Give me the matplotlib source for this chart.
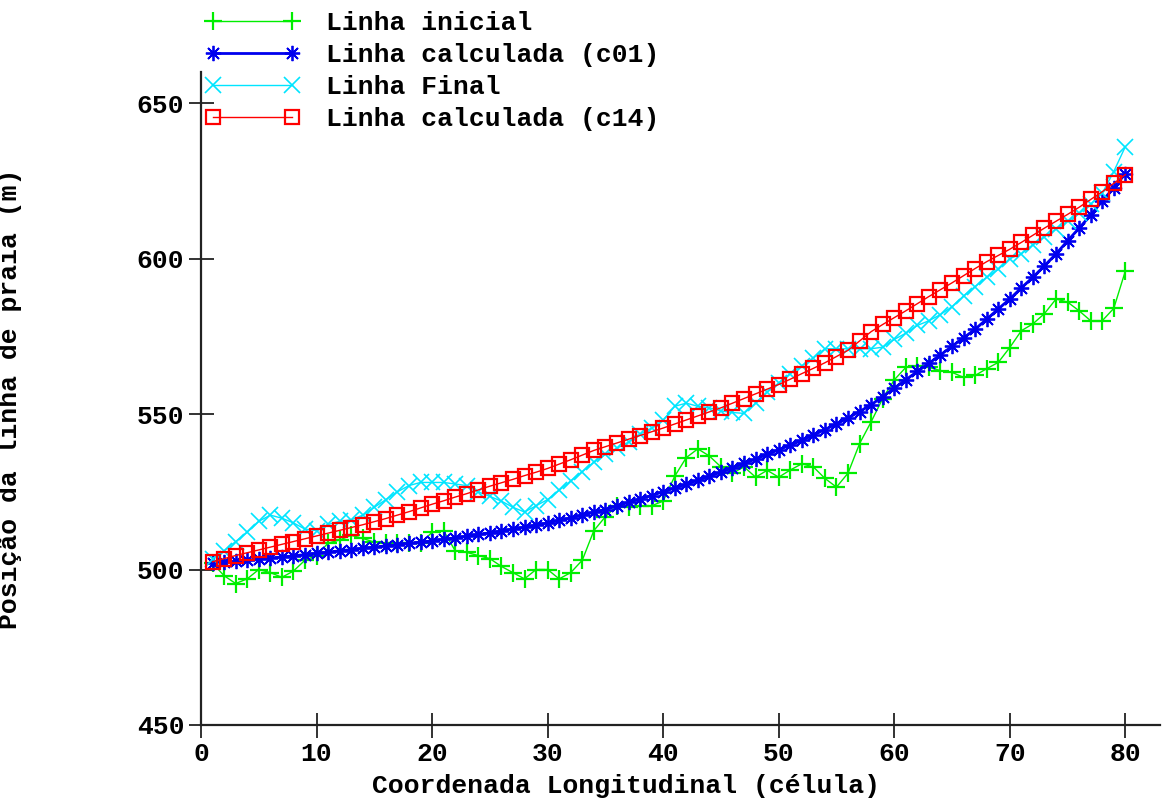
import numpy as np
import matplotlib
matplotlib.use("Agg")
import matplotlib.pyplot as plt

# cells along the coast
cells = list(range(1, 81))

linha_inicial = [
    502.0, 498.0, 495.5, 497.0, 500.0, 499.0, 497.5, 499.5, 503.0, 504.5,
    508.5, 509.5, 511.0, 510.0, 508.8, 508.4, 508.4, 508.4, 508.4, 512.0,
    512.5, 506.0, 505.5, 504.5, 503.5, 501.0, 499.0, 497.0, 500.0, 500.0,
    497.0, 499.0, 503.0, 512.5, 517.0, 520.5, 520.0, 520.5, 520.5, 522.0,
    530.0, 536.0, 538.8, 536.5, 533.0, 531.0, 533.0, 529.7, 531.9, 529.7,
    532.0, 534.0, 533.0, 529.3, 526.5, 531.0, 540.5, 547.5, 555.0, 561.0,
    565.0, 565.5, 565.0, 564.0, 563.4, 561.8, 562.4, 564.6, 566.6, 571.4,
    576.8, 579.0, 582.3, 587.0, 586.0, 583.2, 580.0, 580.0, 584.0, 596.0,
]

linha_c01 = [
    502.0, 502.3, 502.6, 503.0, 503.3, 503.7, 504.0, 504.4, 504.8, 505.2,
    505.6, 506.0, 506.4, 506.8, 507.2, 507.6, 508.0, 508.4, 508.8, 509.2,
    509.7, 510.2, 510.7, 511.3, 511.8, 512.4, 513.0, 513.6, 514.3, 515.0,
    515.8, 516.6, 517.5, 518.4, 519.3, 520.4, 521.6, 522.7, 523.8, 525.0,
    526.2, 527.4, 528.7, 530.0, 531.3, 532.7, 534.1, 535.5, 537.0, 538.5,
    540.0, 541.5, 543.2, 545.0, 546.8, 548.7, 550.8, 553.0, 555.6, 558.3,
    561.0, 563.7, 566.3, 569.0, 571.8, 574.5, 577.3, 580.5, 583.8, 587.0,
    590.6, 594.0, 597.7, 601.5, 605.7, 609.8, 614.0, 618.5, 622.8, 627.3,
]

linha_final = [
    503.5, 506.0, 509.0, 512.0, 515.5, 517.5, 516.5, 515.0, 513.0, 512.5,
    514.5, 515.5, 516.0, 517.5, 520.0, 522.5, 525.0, 527.0, 528.0, 528.0,
    528.0, 527.5, 527.0, 525.0, 523.5, 522.0, 520.0, 518.5, 520.5, 522.5,
    525.5, 528.5, 531.5, 534.5, 537.0, 539.0, 541.0, 543.5, 545.5, 548.0,
    552.5, 553.5, 552.5, 552.0, 551.0, 550.5, 550.2, 553.5, 557.0, 560.0,
    563.0, 565.5, 568.0, 571.0, 571.0, 571.0, 571.0, 571.0, 571.5, 574.0,
    576.0, 578.5, 580.0, 582.0, 584.5, 588.0, 591.0, 594.0, 596.5, 600.0,
    601.5, 604.5, 607.0, 609.5, 612.0, 614.5, 617.5, 621.0, 628.0, 636.0,
]

linha_c14 = [
    502.5, 503.5, 504.5, 505.4, 506.3, 507.2, 508.1, 509.0, 509.9, 510.8,
    511.7, 512.6, 513.5, 514.4, 515.4, 516.4, 517.5, 518.6, 519.8, 521.0,
    522.1, 523.3, 524.4, 525.6, 526.8, 527.9, 529.0, 530.2, 531.3, 532.5,
    533.9, 535.3, 536.8, 538.3, 539.5, 540.7, 541.9, 543.1, 544.3, 545.5,
    546.8, 548.1, 549.4, 550.7, 552.0, 553.5, 555.0, 556.5, 558.0, 559.5,
    561.2, 563.0, 564.7, 566.5, 568.5, 570.5, 573.5, 576.5, 578.8, 581.0,
    583.2, 585.5, 587.8, 590.0, 592.2, 594.5, 596.8, 599.0, 601.0, 603.0,
    605.2, 607.5, 609.8, 612.0, 614.2, 616.5, 619.0, 621.5, 624.2, 627.0,
]

labels = ["Linha inicial", "Linha calculada (c01)", "Linha Final",
          "Linha calculada (c14)"]
x_ticks = [0, 10, 20, 30, 40, 50, 60, 70, 80]
y_ticks = [450, 500, 550, 600, 650]

plt.rcParams["font.family"] = ["Liberation Mono", "DejaVu Sans Mono"]
plt.rcParams["font.weight"] = "bold"
plt.rcParams["font.size"] = 19

fig = plt.figure(figsize=(11.64, 8.0), dpi=100)
ax = fig.add_axes([201 / 1164, 75 / 800, 959 / 1164, 653 / 800])

ax.plot(cells, linha_inicial, color="#00ee00", lw=1.0, marker="+",
        ms=13, mew=1.6, label=labels[0])
ax.plot(cells, linha_c01, color="#0000ee", lw=2.0, marker=(8, 2, 0),
        ms=11, mew=1.3, label=labels[1])
ax.plot(cells, linha_final, color="#00e5ff", lw=1.0, marker="x",
        ms=11, mew=1.2, label=labels[2])
ax.plot(cells, linha_c14, color="#ff0000", lw=1.0, marker="s",
        ms=10.5, mew=1.6, mfc="none", label=labels[3])

ax.set_xlim(0, 83)
ax.set_ylim(450, 660)
ax.set_xticks(x_ticks)
ax.set_yticks(y_ticks)
for side in ("top", "right"):
    ax.spines[side].set_visible(False)
for side in ("left", "bottom"):
    ax.spines[side].set_linewidth(1.6)
    ax.spines[side].set_color("#222222")
ax.tick_params(direction="inout", length=18, width=1.3, color="#222222",
               labelsize=19, pad=3)

ax.set_xlabel("Coordenada Longitudinal (célula)", fontsize=19,
              fontweight="bold")
ax.set_ylabel("Posição da linha de praia (m)", fontsize=19,
              fontweight="bold")
ax.xaxis.set_label_coords(0.4435, -0.075)
ax.yaxis.set_label_coords(-0.187, 0.5)

fig.legend(loc="upper left", bbox_to_anchor=(205 / 1164, 1 - 11 / 800),
           frameon=False, numpoints=2, handlelength=3.6, handletextpad=1.0,
           labelspacing=0.3, borderpad=0, borderaxespad=0, fontsize=19)

fig.savefig("out.png", dpi=100, facecolor="white")
